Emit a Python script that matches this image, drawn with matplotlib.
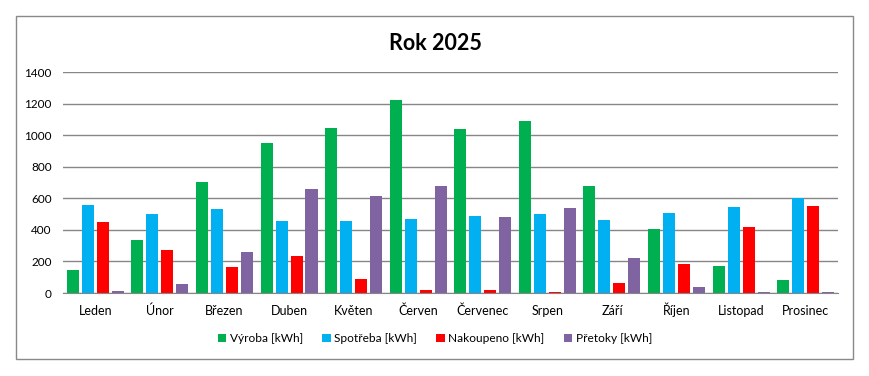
import matplotlib.pyplot as plt
import matplotlib.patches as mpatches
import numpy as np

plt.rcParams['font.family'] = ['Lato', 'DejaVu Sans']

months = ['Leden', 'Únor', 'Březen', 'Duben', 'Květen', 'Červen',
          'Červenec', 'Srpen', 'Září', 'Říjen', 'Listopad', 'Prosinec']
vyroba = [148, 338, 705, 952, 1047, 1225, 1041, 1092, 680, 408, 173, 84]
spotreba = [555, 503, 534, 458, 458, 471, 490, 503, 465, 509, 547, 604]
nakoupeno = [452, 274, 167, 236, 91, 21, 21, 8, 65, 186, 420, 553]
pretoky = [10, 59, 262, 661, 617, 680, 484, 541, 224, 40, 8, 8]

series = [
    ('Výroba [kWh]', vyroba, '#00B050'),
    ('Spotřeba [kWh]', spotreba, '#00B0F0'),
    ('Nakoupeno [kWh]', nakoupeno, '#FF0000'),
    ('Přetoky [kWh]', pretoky, '#8064A2'),
]

fig = plt.figure(figsize=(8.7, 3.76), dpi=100)
ax = fig.add_axes([0.0724, 0.2207, 0.8908, 0.5878])

x = np.arange(len(months))
step = 0.232
width = 0.186
for i, (name, vals, col) in enumerate(series):
    ax.bar(x + (i - 1.5) * step, vals, width, color=col, label=name, zorder=3)

ax.set_xlim(-0.5, len(months) - 0.5)
ax.set_ylim(0, 1400)
ax.set_yticks(range(0, 1401, 200))
ax.set_xticks(x)
ax.set_xticklabels(months, fontsize=9, va='baseline')
ax.tick_params(axis='y', labelsize=8.5, length=0, pad=8)
ax.tick_params(axis='x', length=0, pad=16)
ax.grid(axis='y', color='#868686', linewidth=1, zorder=0)
for s in ['top', 'right', 'left']:
    ax.spines[s].set_visible(False)
ax.spines['bottom'].set_color('#868686')
ax.spines['bottom'].set_zorder(4)

fig.text(0.5, 0.885, 'Rok 2025', ha='center', va='center',
         fontsize=15.5, fontweight='bold')

fig.legend(loc='center', bbox_to_anchor=(0.5, 0.1), ncol=4, frameon=False,
           fontsize=8.6, handlelength=0.7, handleheight=0.7, handletextpad=0.3,
           columnspacing=1.6)

# chart border
fig.patches.append(mpatches.Rectangle((16 / 870, 1 - 359 / 376), 837 / 870, 343 / 376,
                                      transform=fig.transFigure, fill=False,
                                      edgecolor='#898989', linewidth=1))

fig.savefig('out.png', dpi=100)
